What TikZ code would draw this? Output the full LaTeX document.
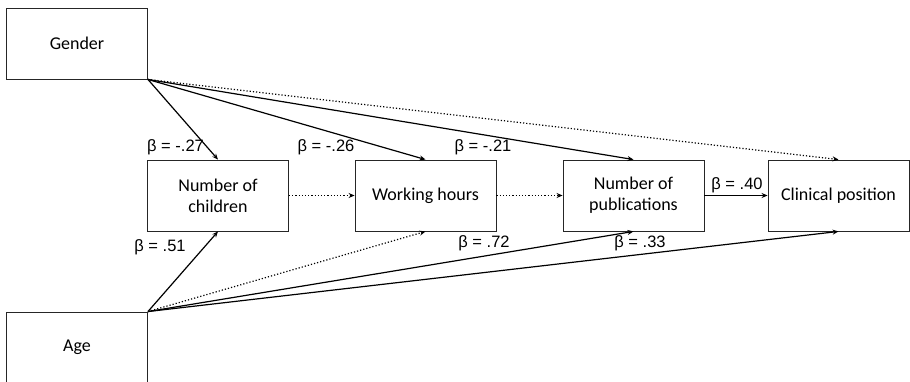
\documentclass[tikz,border=0pt]{standalone}
\usepackage{fontspec}
\setmainfont{Carlito}
\newfontfamily\labfont{Liberation Sans}
\usetikzlibrary{arrows.meta}
\begin{document}
\begin{tikzpicture}[x=1pt,y=-1pt,
  box/.style={draw=black!85,line width=0.9pt,minimum width=141pt,minimum height=71pt,inner sep=0pt,align=center,font=\fontsize{18}{21}\selectfont},
  con/.style={line width=1.2pt,-{Stealth[length=6pt,width=5pt]}},
  dot/.style={con,dotted},
  lab/.style={font=\labfont\fontsize{16.5}{18}\selectfont,inner sep=0pt}]
\useasboundingbox (0,0) rectangle (910,381);
\clip (0,0) rectangle (910,381);
\node[box] (gender) at (77,43.5) {Gender};
\node[box] (age) at (77,347.5) {Age};
\node[box] (children) at (218,195.5) {Number of\\children};
\node[box] (hours) at (425.5,195.5) {Working hours};
\node[box] (pubs) at (633.5,195.5) {Number of\\publications};
\node[box] (clin) at (838.5,195.5) {Clinical position};
\draw[con] (gender.south east) -- (children.north);
\draw[con] (gender.south east) -- (hours.north);
\draw[con] (gender.south east) -- (pubs.north);
\draw[dot] (gender.south east) -- (clin.north);
\draw[dot] (children) -- (hours);
\draw[dot] (hours) -- (pubs);
\draw[con] (pubs) -- (clin);
\draw[con] (age.north east) -- (children.south);
\draw[dot] (age.north east) -- (hours.south);
\draw[con] (age.north east) -- (pubs.south);
\draw[con] (age.north east) -- (clin.south);
\node[lab] (l1) at (175.5,147) {β = -.27};
\node[lab] (l2) at (326,147) {β = -.26};
\node[lab] (l3) at (483,147) {β = -.21};
\node[lab] (l4) at (737,185) {β = .40};
\node[lab] (l5) at (160,247) {β = .51};
\node[lab] (l6) at (484,243) {β = .72};
\node[lab] (l7) at (640,243) {β = .33};
\end{tikzpicture}
\end{document}
